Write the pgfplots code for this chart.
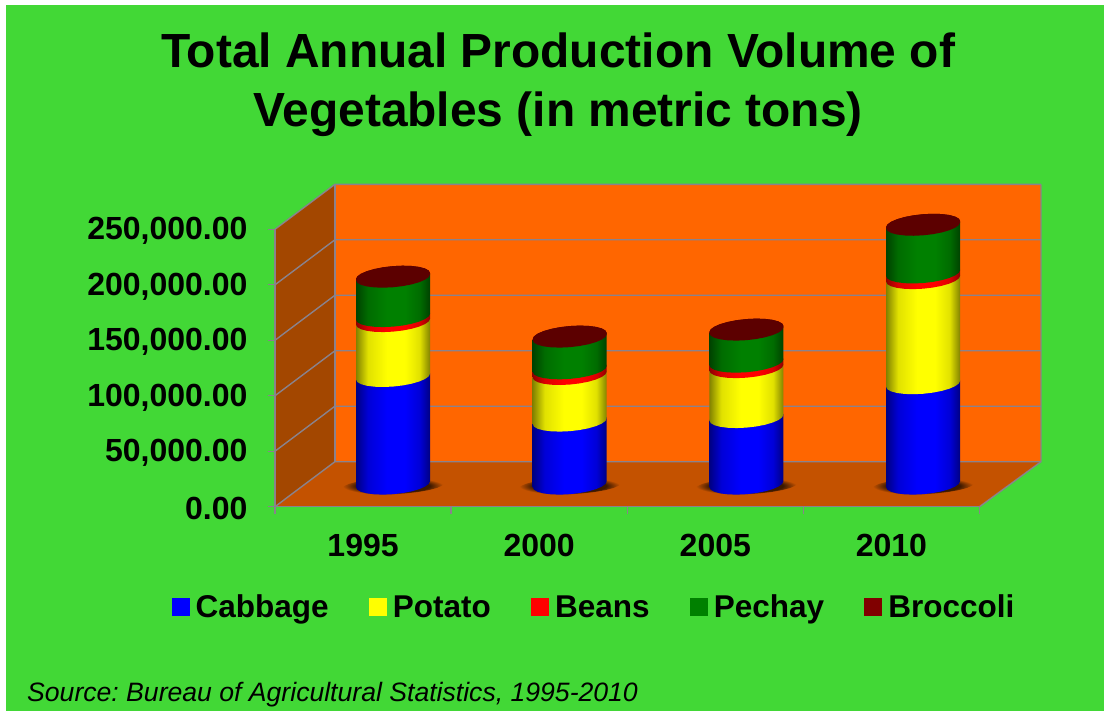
\documentclass[border=0pt]{standalone}
\usepackage{fontspec}
\setmainfont{Liberation Sans}
\usepackage{pgfplots}
\usepackage{pgfplotstable}
\pgfplotsset{compat=1.18}
\frenchspacing
\definecolor{bgreen}{RGB}{66,216,54}
\definecolor{wallback}{RGB}{255,102,0}
\definecolor{wallleft}{RGB}{163,71,0}
\definecolor{wallfloor}{RGB}{196,82,0}
\definecolor{gridc}{RGB}{138,130,140}
\definecolor{capc}{RGB}{92,0,0}
\definecolor{shadowc}{RGB}{60,25,0}
\definecolor{bluebr}{RGB}{0,0,255}\definecolor{bluemd}{RGB}{0,0,215}\definecolor{bluedk}{RGB}{0,0,130}
\definecolor{yelbr}{RGB}{255,255,0}\definecolor{yelmd}{RGB}{225,225,0}\definecolor{yeldk}{RGB}{130,130,0}
\definecolor{redbr}{RGB}{255,0,0}\definecolor{redmd}{RGB}{220,0,0}\definecolor{reddk}{RGB}{140,0,0}
\definecolor{grnbr}{RGB}{0,128,0}\definecolor{grnmd}{RGB}{0,108,0}\definecolor{grndk}{RGB}{0,66,0}
\definecolor{legblue}{RGB}{0,0,255}
\definecolor{legyel}{RGB}{255,255,0}
\definecolor{legred}{RGB}{255,0,0}
\definecolor{leggrn}{RGB}{0,128,0}
\definecolor{legbro}{RGB}{128,0,0}
\pgfdeclarehorizontalshading{cylblue}{100bp}{color(0bp)=(bluedk);color(25bp)=(bluedk);color(33bp)=(bluemd);color(46bp)=(bluebr);color(58bp)=(bluebr);color(68bp)=(bluemd);color(75bp)=(bluedk);color(100bp)=(bluedk)}
\pgfdeclarehorizontalshading{cylyel}{100bp}{color(0bp)=(yeldk);color(25bp)=(yeldk);color(33bp)=(yelmd);color(46bp)=(yelbr);color(58bp)=(yelbr);color(68bp)=(yelmd);color(75bp)=(yeldk);color(100bp)=(yeldk)}
\pgfdeclarehorizontalshading{cylred}{100bp}{color(0bp)=(reddk);color(25bp)=(reddk);color(33bp)=(redmd);color(46bp)=(redbr);color(58bp)=(redbr);color(68bp)=(redmd);color(75bp)=(reddk);color(100bp)=(reddk)}
\pgfdeclarehorizontalshading{cylgrn}{100bp}{color(0bp)=(grndk);color(25bp)=(grndk);color(33bp)=(grnmd);color(46bp)=(grnbr);color(58bp)=(grnbr);color(68bp)=(grnmd);color(75bp)=(grndk);color(100bp)=(grndk)}
\pgfdeclareradialshading{floorshadow}{\pgfpoint{0bp}{0bp}}{color(0bp)=(shadowc);color(18bp)=(shadowc);color(25bp)=(wallfloor);color(50bp)=(wallfloor)}
% outline of one cylinder piece, in picture units round its centre:
% front arc of the lower end, back arc of the upper end
\pgfplotstableread{
px py top
-37 -3 0
-35.74 -5.49 0
-32.04 -7.60 0
-26.16 -9.19 0
-18.5 -10.16 0
-9.58 -10.44 0
0 -10 0
9.58 -8.88 0
18.5 -7.16 0
26.16 -4.95 0
32.04 -2.40 0
35.74 0.31 0
37 3 0
37 3 1
35.74 5.49 1
32.04 7.60 1
26.16 9.19 1
18.5 10.16 1
9.58 10.44 1
0 10 1
-9.58 8.88 1
-18.5 7.16 1
-26.16 4.95 1
-32.04 2.40 1
-35.74 -0.31 1
-37 -3 1
-37 -3 0
}\cylshape
% #1 category, #2 base of the piece, #3 value of the piece, #4 style
\newcommand\seg[4]{\addplot[forget plot,draw=none,#4] table[x expr={#1*1.0032+0.1703+\thisrow{px}/176.1},y expr={#2+20280+\thisrow{top}*#3+\thisrow{py}*901.2}] {\cylshape};}
\newcommand\shadowat[1]{\addplot[forget plot,draw=none,shade,shading=floorshadow] table[x expr={#1*1.0032+0.1703+\thisrow{px}*1.37/176.1},y expr={20280-1500+\thisrow{py}*0.85*901.2}] {\cylshape};}
\begin{document}
\begin{tikzpicture}[x=1pt,y=1pt]
\fill[white] (-275,-204.3) rectangle (829,506.7);
\fill[bgreen] (-269,-204.3) rectangle (829,501.7);
\begin{axis}[
  at={(0pt,0pt)},anchor=south west,
  scale only axis,width=704.5pt,height=277.4pt,
  xmin=-0.5,xmax=3.5,ymin=0,ymax=250000,
  clip=false,axis on top,
  axis x line*=bottom,axis y line*=left,
  axis line style={gridc,line width=1.4pt},
  tick align=outside,major tick length=7pt,
  tick style={gridc,line width=1.4pt},
  xtick={-0.5,0.5,1.5,2.5,3.5},
  xticklabels={1995,2000,2005,2010},
  x tick label as interval,
  ytick={0,50000,100000,150000,200000,250000},
  scaled y ticks=false,
  /pgf/number format/fixed,
  /pgf/number format/fixed zerofill,
  /pgf/number format/precision=2,
  /pgf/number format/1000 sep={,},
  /pgf/number format/assume math mode=true,
  tick label style={font=\fontsize{32}{36}\selectfont\bfseries,black},
  y tick label style={xshift=-17pt,yshift=-2pt},
  x tick label style={yshift=-17pt},
  legend columns=5,
  legend style={at={(0.4528,-0.3616)},anchor=center,draw=none,fill=none,font=\fontsize{31.5}{36}\selectfont\bfseries,
    /tikz/every even column/.append style={column sep=38pt},inner sep=0pt},
  legend cell align=left,
  legend image code/.code={\fill[#1] (0pt,-8.5pt) rectangle (17pt,8.5pt);\path[draw=none,fill=none] (0pt,0pt) -- (22pt,0pt);},
]
% walls
\addplot[forget plot,draw=none,fill=wallback] coordinates {(-0.1596,40550)(3.849,40550)(3.849,290550)(-0.1596,290550)(-0.1596,40550)};
\addplot[forget plot,draw=none,fill=wallleft] coordinates {(-0.5,0)(-0.1596,40550)(-0.1596,290550)(-0.5,250000)(-0.5,0)};
\addplot[forget plot,draw=none,fill=wallfloor] coordinates {(-0.5,0)(3.5,0)(3.849,40550)(-0.1596,40550)(-0.5,0)};
% grid on the walls
\addplot[forget plot,gridc,line width=1.4pt] coordinates {(-0.5,0)(-0.1596,40550)(3.849,40550)};
\addplot[forget plot,gridc,line width=1.4pt] coordinates {(-0.5,50000)(-0.1596,90550)(3.849,90550)};
\addplot[forget plot,gridc,line width=1.4pt] coordinates {(-0.5,100000)(-0.1596,140550)(3.849,140550)};
\addplot[forget plot,gridc,line width=1.4pt] coordinates {(-0.5,150000)(-0.1596,190550)(3.849,190550)};
\addplot[forget plot,gridc,line width=1.4pt] coordinates {(-0.5,200000)(-0.1596,240550)(3.849,240550)};
\addplot[forget plot,gridc,line width=1.4pt] coordinates {(-0.5,250000)(-0.1596,290550)(3.849,290550)};
\addplot[forget plot,gridc,line width=1.4pt] coordinates {(-0.1596,40550)(-0.1596,290550)};
\addplot[forget plot,gridc,line width=1.4pt] coordinates {(3.849,290550)(3.849,40550)(3.5,0)};
% shadows
\shadowat{0}\shadowat{1}\shadowat{2}\shadowat{3}
% 1995
\seg{0}{0}{97000}{shade,shading=cylblue}
\seg{0}{97000}{49500}{shade,shading=cylyel}
\seg{0}{146500}{4500}{shade,shading=cylred}
\seg{0}{151000}{35500}{shade,shading=cylgrn}
\seg{0}{186500}{1000}{fill=capc}
\seg{0}{187500}{0}{fill=capc}
% 2000
\seg{1}{0}{56800}{shade,shading=cylblue}
\seg{1}{56800}{42000}{shade,shading=cylyel}
\seg{1}{98800}{5100}{shade,shading=cylred}
\seg{1}{103900}{28600}{shade,shading=cylgrn}
\seg{1}{132500}{1000}{fill=capc}
\seg{1}{133500}{0}{fill=capc}
% 2005
\seg{2}{0}{60000}{shade,shading=cylblue}
\seg{2}{60000}{45000}{shade,shading=cylyel}
\seg{2}{105000}{4900}{shade,shading=cylred}
\seg{2}{109900}{28900}{shade,shading=cylgrn}
\seg{2}{138800}{1000}{fill=capc}
\seg{2}{139800}{0}{fill=capc}
% 2010
\seg{3}{0}{90500}{shade,shading=cylblue}
\seg{3}{90500}{94700}{shade,shading=cylyel}
\seg{3}{185200}{5100}{shade,shading=cylred}
\seg{3}{190300}{43000}{shade,shading=cylgrn}
\seg{3}{233300}{1000}{fill=capc}
\seg{3}{234300}{0}{fill=capc}
% legend
\addlegendimage{legblue}\addlegendentry{Cabbage}
\addlegendimage{legyel}\addlegendentry{Potato}
\addlegendimage{legred}\addlegendentry{Beans}
\addlegendimage{leggrn}\addlegendentry{Pechay}
\addlegendimage{legbro}\addlegendentry{Broccoli}
\end{axis}
\node[align=center,font=\fontsize{47.9}{59}\selectfont\bfseries,anchor=center] at (283,421.5) {Total Annual Production Volume of\\Vegetables (in metric tons)};
\node[font=\fontsize{26.6}{30}\selectfont\itshape,anchor=base west,inner sep=0pt] at (-248,-195) {Source: Bureau of Agricultural Statistics, 1995-2010};
\end{tikzpicture}
\end{document}
